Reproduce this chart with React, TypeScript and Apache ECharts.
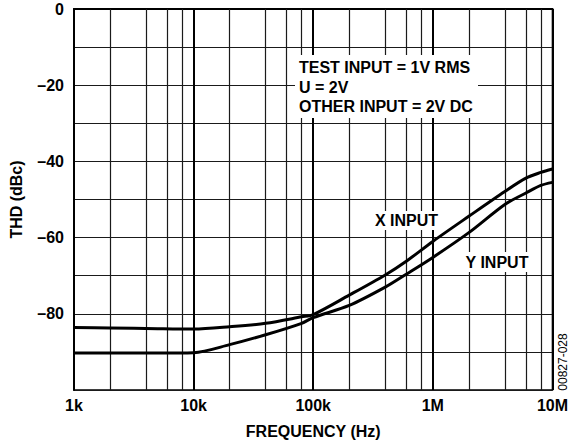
import React, { useEffect, useRef } from 'react';
import * as echarts from 'echarts';

const xTickValues = [1e3, 1e4, 1e5, 1e6, 1e7];
const xTickLabels = ['1k', '10k', '100k', '1M', '10M'];
const minorGridFreqs = [
  2e3, 4e3, 6e3, 8e3,
  2e4, 4e4, 6e4, 8e4,
  2e5, 4e5, 6e5, 8e5,
  2e6, 4e6, 6e6, 8e6,
];

const freqXInput = [1e3, 2e3, 5e3, 1e4, 2e4, 4e4, 8e4, 1e5, 2e5, 4e5, 6e5, 1e6, 2e6, 4e6, 6e6, 8e6, 1e7];
const thdXInput = [-83.6, -83.7, -83.9, -84.0, -83.4, -82.5, -80.8, -80.2, -75.1, -69.8, -66.2, -61.0, -54.4, -47.9, -44.4, -42.9, -42.0];

const freqYInput = [1e3, 5e3, 1e4, 2e4, 4e4, 8e4, 1e5, 2e5, 4e5, 6e5, 1e6, 2e6, 4e6, 6e6, 8e6, 1e7];
const thdYInput = [-90.3, -90.3, -90.2, -88.1, -85.5, -82.5, -81.0, -77.8, -73.0, -69.6, -65.2, -58.7, -51.3, -48.3, -46.3, -45.5];

const conditionLines = ['TEST INPUT = 1V RMS', 'U = 2V', 'OTHER INPUT = 2V DC'];
const seriesNames = ['X INPUT', 'Y INPUT'];
const figureCode = '00827-028';

const FONT = '"Liberation Sans", Arial, Helvetica, sans-serif';
const FS = 16;

export default function App() {
  const ref = useRef<HTMLDivElement>(null);

  useEffect(() => {
    if (!ref.current) return;
    const chart = echarts.init(ref.current, undefined, { renderer: 'svg' });

    const zip = (xs: number[], ys: number[]) => xs.map((x, i) => [x, ys[i]]);
    const boldText = (text: string, x: number, y: number, align = 'left') => ({
      type: 'text',
      z: 101,
      style: {
        text,
        x,
        y,
        fill: '#000',
        font: `bold ${FS}px ${FONT}`,
        textAlign: align,
        textVerticalAlign: 'middle',
      },
    });

    chart.setOption({
      animation: false,
      backgroundColor: '#fff',
      grid: {
        left: 72,
        right: 18,
        top: 9,
        bottom: 50,
        show: true,
        borderColor: '#000',
        borderWidth: 1.5,
        backgroundColor: 'transparent',
      },
      xAxis: {
        type: 'log',
        logBase: 10,
        min: 1e3,
        max: 1e7,
        name: 'FREQUENCY (Hz)',
        nameLocation: 'middle',
        nameGap: 33,
        nameTextStyle: { fontFamily: FONT, fontWeight: 'bold', fontSize: FS, color: '#000' },
        axisLine: { show: true, lineStyle: { color: '#000', width: 2 } },
        axisTick: { show: false },
        axisLabel: {
          margin: 7,
          fontFamily: FONT,
          fontWeight: 'bold',
          fontSize: FS,
          color: '#000',
          showMinLabel: true,
          showMaxLabel: true,
          formatter: (v: number) => {
            const i = xTickValues.findIndex((t) => Math.abs(Math.log10(t) - Math.log10(v)) < 1e-6);
            return i >= 0 ? xTickLabels[i] : '';
          },
        },
        splitLine: { show: true, lineStyle: { color: '#000', width: 2 } },
      },
      yAxis: {
        type: 'value',
        min: -100,
        max: 0,
        interval: 10,
        name: 'THD (dBc)',
        nameLocation: 'middle',
        nameGap: 50,
        nameTextStyle: { fontFamily: FONT, fontWeight: 'bold', fontSize: FS, color: '#000' },
        axisLine: { show: true, lineStyle: { color: '#000', width: 2 } },
        axisTick: { show: false },
        axisLabel: {
          margin: 10,
          fontFamily: FONT,
          fontWeight: 'bold',
          fontSize: FS,
          color: '#000',
          formatter: (v: number) => {
            if (v === -100 || v % 20 !== 0) return '';
            return v === 0 ? '0' : '\u2013' + Math.abs(v);
          },
        },
        splitLine: { show: true, lineStyle: { color: '#1a1a1a', width: 1.2 } },
      },
      series: [
        {
          name: 'grid',
          type: 'line',
          data: [],
          silent: true,
          markLine: {
            silent: true,
            symbol: ['none', 'none'],
            label: { show: false },
            lineStyle: { type: 'solid', color: '#1a1a1a', width: 1.2 },
            data: minorGridFreqs.map((f) => ({ xAxis: f })),
          },
        },
        {
          name: seriesNames[0],
          type: 'line',
          data: zip(freqXInput, thdXInput),
          symbol: 'none',
          smooth: 0.3,
          z: 10,
          lineStyle: { color: '#000', width: 3 },
        },
        {
          name: seriesNames[1],
          type: 'line',
          data: zip(freqYInput, thdYInput),
          symbol: 'none',
          smooth: 0.3,
          z: 10,
          lineStyle: { color: '#000', width: 3 },
        },
      ],
      graphic: [
        { type: 'rect', z: 100, shape: { x: 295, y: 55, width: 183, height: 63 }, style: { fill: '#fff' } },
        boldText(conditionLines[0], 299, 67),
        boldText(conditionLines[1], 299, 87),
        boldText(conditionLines[2], 299, 106),
        { type: 'rect', z: 100, shape: { x: 372, y: 211, width: 69, height: 19 }, style: { fill: '#fff' } },
        boldText(seriesNames[0], 406.5, 220.5, 'center'),
        { type: 'rect', z: 100, shape: { x: 463, y: 252, width: 68, height: 20 }, style: { fill: '#fff' } },
        boldText(seriesNames[1], 497, 262, 'center'),
        {
          type: 'text',
          z: 101,
          x: 563,
          y: 362,
          rotation: Math.PI / 2,
          style: {
            text: figureCode,
            x: 0,
            y: 0,
            fill: '#000',
            font: `12px ${FONT}`,
            textAlign: 'center',
            textVerticalAlign: 'middle',
          },
        },
      ],
    });

    return () => chart.dispose();
  }, []);

  return (
    <div
      ref={ref}
      style={{ position: 'absolute', left: 0, top: 0, width: 571, height: 444 }}
    />
  );
}
